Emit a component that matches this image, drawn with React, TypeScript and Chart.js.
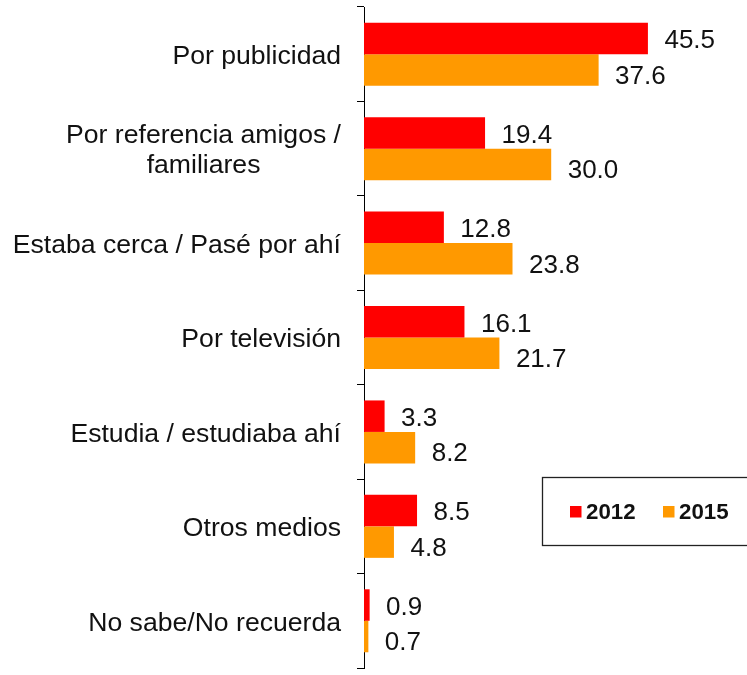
import React, { useEffect, useRef } from "react";
import { Chart, registerables } from "chart.js";

Chart.register(...registerables);

const categories: (string | string[])[] = [
  "Por publicidad",
  ["Por referencia amigos /", "familiares"],
  "Estaba cerca / Pasé por ahí",
  "Por televisión",
  "Estudia / estudiaba ahí",
  "Otros medios",
  "No sabe/No recuerda",
];
const seriesNames = ["2012", "2015"];
const values2012 = [45.5, 19.4, 12.8, 16.1, 3.3, 8.5, 0.9];
const values2015 = [37.6, 30.0, 23.8, 21.7, 8.2, 4.8, 0.7];
const seriesColors = ["#FF0000", "#FF9900"];
const axisMax = 50;

const FONT = '"Liberation Sans", Arial, Helvetica, sans-serif';

const categoryLabelsPlugin = {
  id: "categoryLabels",
  afterDraw(chart: any) {
    const ctx = chart.ctx;
    const yScale = chart.scales.y;
    const right = chart.chartArea.left - 23;
    const lineH = 30;
    ctx.save();
    ctx.font = `26.6px ${FONT}`;
    ctx.fillStyle = "#111";
    ctx.textBaseline = "alphabetic";
    (chart.data.labels as any[]).forEach((lab, i) => {
      const lines: string[] = Array.isArray(lab) ? lab : [lab];
      const cy = yScale.getPixelForValue(i);
      const maxW = Math.max(...lines.map((l) => ctx.measureText(l).width));
      lines.forEach((line, k) => {
        const y = cy + (k - (lines.length - 1) / 2) * lineH + 9.8;
        if (lines.length === 1) {
          ctx.textAlign = "right";
          ctx.fillText(line, right, y);
        } else {
          ctx.textAlign = "center";
          ctx.fillText(line, right - maxW / 2, y);
        }
      });
    });
    ctx.restore();
  },
};

const valueLabelsPlugin = {
  id: "valueLabels",
  afterDatasetsDraw(chart: any) {
    const ctx = chart.ctx;
    ctx.save();
    ctx.font = `26px ${FONT}`;
    ctx.fillStyle = "#111";
    ctx.textAlign = "left";
    ctx.textBaseline = "alphabetic";
    chart.data.datasets.forEach((ds: any, di: number) => {
      const meta = chart.getDatasetMeta(di);
      meta.data.forEach((bar: any, i: number) => {
        const v = ds.data[i] as number;
        const { x, y } = bar.getProps(["x", "y"], true);
        ctx.fillText(v.toFixed(1), x + 16.5, y + 9.8 + (di === 1 ? 4 : 0));
      });
    });
    ctx.restore();
  },
};

const boxLegendPlugin = {
  id: "boxLegend",
  afterDraw(chart: any) {
    const ctx = chart.ctx;
    ctx.save();
    const bx = 542.5;
    const by = 477.5;
    ctx.fillStyle = "#fff";
    ctx.fillRect(bx, by, 215, 68);
    ctx.strokeStyle = "#222";
    ctx.lineWidth = 1.3;
    ctx.strokeRect(bx, by, 215, 68);
    ctx.font = `bold 22.3px ${FONT}`;
    ctx.textAlign = "left";
    ctx.textBaseline = "alphabetic";
    chart.data.datasets.forEach((ds: any, i: number) => {
      const sx = 570 + i * 93;
      ctx.fillStyle = ds.backgroundColor;
      ctx.fillRect(sx, 506, 11.5, 11.5);
      ctx.fillStyle = "#111";
      ctx.fillText(ds.label, sx + 16, 519);
    });
    ctx.restore();
  },
};

export default function App() {
  const ref = useRef<HTMLCanvasElement | null>(null);

  useEffect(() => {
    if (!ref.current) return;
    const chart = new Chart(ref.current, {
      type: "bar",
      data: {
        labels: categories as any,
        datasets: [
          {
            label: seriesNames[0],
            data: values2012,
            backgroundColor: seriesColors[0],
            categoryPercentage: 0.667,
            barPercentage: 1,
          },
          {
            label: seriesNames[1],
            data: values2015,
            backgroundColor: seriesColors[1],
            categoryPercentage: 0.667,
            barPercentage: 1,
          },
        ],
      },
      options: {
        indexAxis: "y",
        animation: false,
        responsive: false,
        devicePixelRatio: 1,
        layout: { padding: { left: 357, right: 71, top: 7, bottom: 7 } },
        plugins: {
          legend: { display: false },
          tooltip: { enabled: false },
        },
        scales: {
          x: { display: false, min: 0, max: axisMax },
          y: {
            display: true,
            offset: true,
            grid: {
              display: true,
              drawOnChartArea: false,
              drawTicks: true,
              tickLength: 7,
              color: "#000",
              lineWidth: 1,
              offset: true,
            },
            border: { display: true, color: "#000", width: 1 },
            ticks: { display: false },
          },
        },
      },
      plugins: [valueLabelsPlugin, categoryLabelsPlugin, boxLegendPlugin],
    });
    return () => chart.destroy();
  }, []);

  return (
    <div style={{ position: "absolute", left: 0, top: 0, width: 747, height: 675, background: "#fff" }}>
      <canvas ref={ref} width={747} height={675} style={{ display: "block" }} />
    </div>
  );
}
